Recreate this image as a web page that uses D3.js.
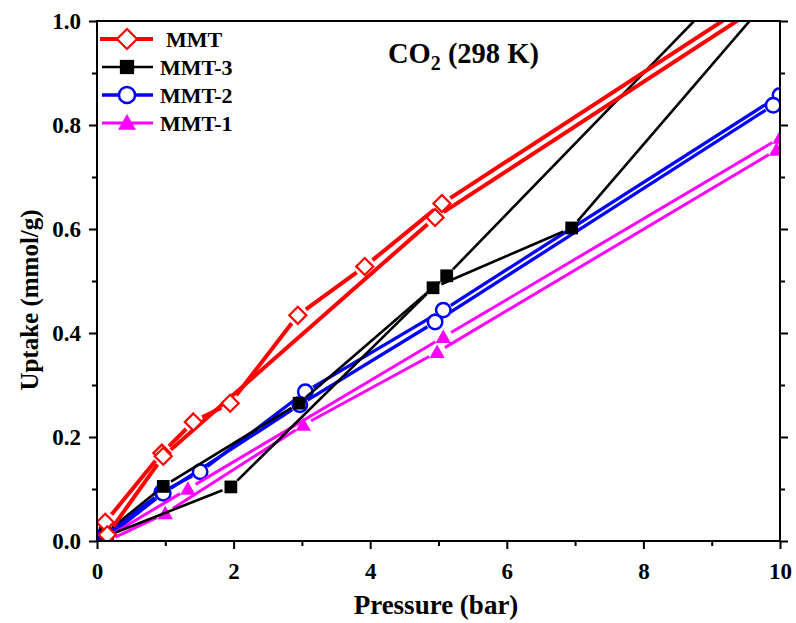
<!DOCTYPE html>
<html><head><meta charset="utf-8">
<script src="https://cdn.jsdelivr.net/npm/d3@7"></script>
<style>
html,body{margin:0;padding:0;background:#fff;}
text{font-family:"Liberation Serif","Times New Roman",serif;font-weight:bold;}
</style></head>
<body>
<svg id="c" width="796" height="623"></svg>
<script>
// ---- data ----
const mmtX  = [0.12, 0.95, 1.41, 1.95, 2.94, 3.92, 5.05, 10.0, 10.0, 4.95, 0.97, 0.15];
const mmtY  = [0.036, 0.169, 0.229, 0.265, 0.434, 0.528, 0.649, 1.072, 1.054, 0.622, 0.163, 0.012];
const mmt3X = [0.12, 0.97, 2.96, 5.12, 10.0, 10.0, 6.95, 4.92, 1.96, 0.15];
const mmt3Y = [0.015, 0.105, 0.265, 0.510, 1.170, 1.068, 0.602, 0.487, 0.104, 0.010];
const mmt2X = [0.10, 0.95, 1.51, 3.05, 5.07, 10.0, 9.90, 4.95, 2.97, 0.97, 0.12];
const mmt2Y = [0.010, 0.094, 0.133, 0.287, 0.444, 0.857, 0.838, 0.421, 0.262, 0.092, 0.005];
const mmt1X = [0.12, 1.33, 5.07, 10.0, 9.95, 4.98, 3.02, 1.00, 0.15];
const mmt1Y = [0.005, 0.100, 0.392, 0.775, 0.752, 0.363, 0.223, 0.053, 0.000];
const seriesNames = ["MMT", "MMT-3", "MMT-2", "MMT-1"];
const xTicks = [0, 2, 4, 6, 8, 10];
const xMinor = [1, 3, 5, 7, 9];
const yTicks = [0, 0.2, 0.4, 0.6, 0.8, 1.0];
const yMinor = [0.1, 0.3, 0.5, 0.7, 0.9];

const svg = d3.select("#c");
const L = 97, R = 780, T = 21, B = 541;
const x = d3.scaleLinear().domain([0, 10]).range([L, R]);
const y = d3.scaleLinear().domain([0, 1]).range([B, T]);

svg.append("defs").append("clipPath").attr("id", "clip")
  .append("rect").attr("x", L).attr("y", T).attr("width", R - L).attr("height", B - T);

const series = [
  {name: seriesNames[0], xs: mmtX,  ys: mmtY,  color: "#ff0000", lw: 4,   gap: 10, shape: "diamond"},
  {name: seriesNames[1], xs: mmt3X, ys: mmt3Y, color: "#000000", lw: 2.6, gap: 9,  shape: "square"},
  {name: seriesNames[2], xs: mmt2X, ys: mmt2Y, color: "#0000ff", lw: 3.3, gap: 9,  shape: "circle"},
  {name: seriesNames[3], xs: mmt1X, ys: mmt1Y, color: "#ff00ff", lw: 3,   gap: 9,  shape: "triangle"}
];

function marker(g, shape, cx, cy, color, s) {
  if (shape === "diamond") {
    g.append("path").attr("d", `M${cx},${cy - s}L${cx + s},${cy}L${cx},${cy + s}L${cx - s},${cy}Z`)
      .attr("fill", "#fff").attr("stroke", color).attr("stroke-width", 2.2);
  } else if (shape === "square") {
    const h = s * 0.75;
    g.append("rect").attr("x", cx - h).attr("y", cy - h).attr("width", 2 * h).attr("height", 2 * h)
      .attr("fill", color);
  } else if (shape === "circle") {
    g.append("circle").attr("cx", cx).attr("cy", cy).attr("r", s * 0.85)
      .attr("fill", "#fff").attr("stroke", color).attr("stroke-width", 2.5);
  } else {
    const h = s * 0.9;
    g.append("path").attr("d", `M${cx},${cy - h}L${cx + h},${cy + h * 0.75}L${cx - h},${cy + h * 0.75}Z`)
      .attr("fill", color);
  }
}

const plot = svg.append("g").attr("clip-path", "url(#clip)");
const drawOrder = [2, 3, 1, 0];
drawOrder.forEach(i => {
  const s = series[i];
  const g = plot.append("g");
  const pts = s.xs.map((v, k) => [x(v), y(s.ys[k])]);
  for (let k = 0; k < pts.length - 1; k++) {
    const [x1, y1] = pts[k], [x2, y2] = pts[k + 1];
    const d = Math.hypot(x2 - x1, y2 - y1);
    if (d <= 2 * s.gap + 1) continue;
    const ux = (x2 - x1) / d, uy = (y2 - y1) / d;
    g.append("line")
      .attr("x1", x1 + ux * s.gap).attr("y1", y1 + uy * s.gap)
      .attr("x2", x2 - ux * s.gap).attr("y2", y2 - uy * s.gap)
      .attr("stroke", s.color).attr("stroke-width", s.lw).attr("stroke-linecap", "butt");
  }
  pts.forEach(p => marker(g, s.shape, p[0], p[1], s.color, 8.5));
});

// ---- axes ----
const axisStyle = a => {
  a.selectAll(".domain").remove();
  a.selectAll("line").attr("stroke", "#000").attr("stroke-width", 2);
  a.selectAll("text").attr("font-size", 23).attr("fill", "#000");
};
svg.append("g").attr("transform", `translate(0,${B})`)
  .call(d3.axisBottom(x).tickValues(xTicks).tickFormat(d3.format("d")).tickSize(8).tickPadding(14)).call(axisStyle);
svg.append("g").attr("transform", `translate(0,${B})`)
  .call(d3.axisBottom(x).tickValues(xMinor).tickFormat("").tickSize(5)).call(axisStyle);
svg.append("g").attr("transform", `translate(${L},0)`)
  .call(d3.axisLeft(y).tickValues(yTicks).tickFormat(d3.format(".1f")).tickSize(8).tickPadding(8)).call(axisStyle);
svg.append("g").attr("transform", `translate(${L},0)`)
  .call(d3.axisLeft(y).tickValues(yMinor).tickFormat("").tickSize(5)).call(axisStyle);
svg.append("g").attr("transform", `translate(${R},0)`)
  .call(d3.axisRight(y).tickValues(yTicks).tickFormat("").tickSize(8)).call(axisStyle);
svg.append("g").attr("transform", `translate(${R},0)`)
  .call(d3.axisRight(y).tickValues(yMinor).tickFormat("").tickSize(5)).call(axisStyle);
svg.append("rect").attr("x", L).attr("y", T).attr("width", R - L).attr("height", B - T)
  .attr("fill", "none").attr("stroke", "#000").attr("stroke-width", 2);

svg.append("text").attr("x", 436).attr("y", 614).attr("text-anchor", "middle")
  .attr("font-size", 27).text("Pressure (bar)");
svg.append("text").attr("transform", `translate(38,300) rotate(-90)`).attr("text-anchor", "middle")
  .attr("font-size", 25).text("Uptake (mmol/g)");

// title
const t = svg.append("text").attr("x", 388).attr("y", 63).attr("font-size", 28.5);
t.append("tspan").text("CO");
t.append("tspan").attr("font-size", 20).attr("dy", 7).text("2");
t.append("tspan").attr("dy", -7).text(" (298 K)");

// legend
const legY = [39, 67, 95, 123];
const legTextX = [166, 160, 160, 160];
const legSize = [10, 9.5, 9.5, 10];
series.forEach((s, i) => {
  const g = svg.append("g");
  const yy = legY[i];
  const x0 = i === 0 ? 100 : 102;
  g.append("line").attr("x1", x0).attr("x2", 153).attr("y1", yy).attr("y2", yy)
    .attr("stroke", s.color).attr("stroke-width", s.lw);
  marker(g, s.shape, 127, yy, s.color, legSize[i]);
  g.append("text").attr("x", legTextX[i]).attr("y", yy + 8).attr("font-size", 22).text(s.name);
});
</script>
</body></html>
